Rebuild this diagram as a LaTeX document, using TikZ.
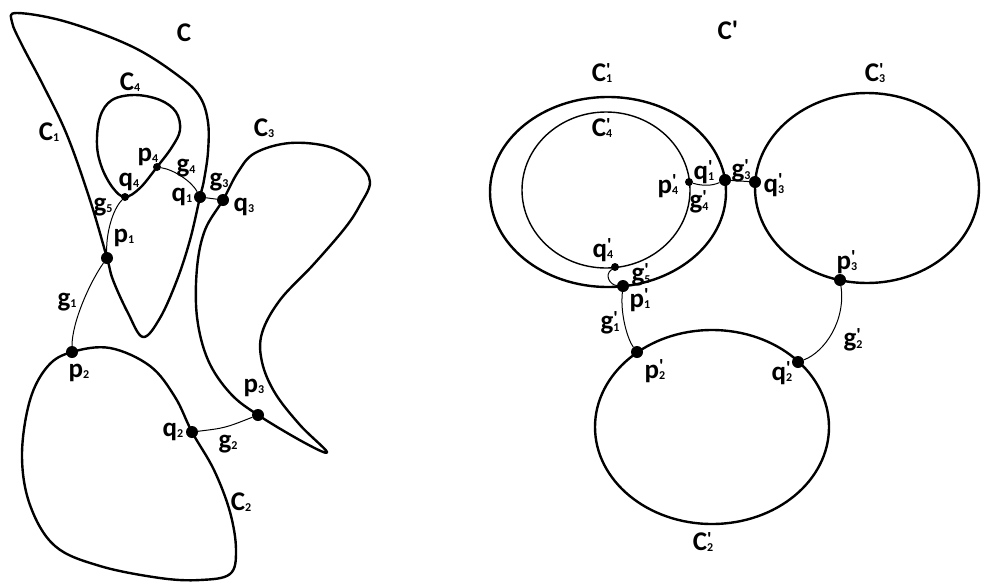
\documentclass[tikz,border=0pt]{standalone}
\usepackage{fontspec}
\setmainfont{Carlito}
\usetikzlibrary{calc}
\tikzset{
  curve/.style={line width=2.4pt, line join=round},
  incurve/.style={line width=1.4pt},
  gline/.style={line width=1pt},
  dot/.style={circle, fill, inner sep=0pt, minimum size=12pt},
  sdot/.style={dot, minimum size=8pt},
  lbl/.style={inner sep=0pt, font=\fontsize{27}{27}\selectfont\bfseries},
}
\newcommand{\lb}[2]{#1{\fontsize{12}{12}\selectfont\raisebox{-0.1em}{#2}}}
\newcommand{\lbp}[2]{#1\rlap{\raisebox{0.2em}{\fontsize{19}{19}\selectfont\textquotesingle}}{\fontsize{12}{12}\selectfont\raisebox{-0.1em}{#2}}}

\begin{document}
\begin{tikzpicture}[x=1pt, y=-1pt]
  \useasboundingbox (0,0) rectangle (984,584);
  % left: the curves C_1 ... C_4
  \draw[curve] plot[smooth cycle, tension=0.6] coordinates {(17,13) (67,22) (133,47) (180,77) (200,97) (208,122) (208,152) (204,180) (200,197) (190,240) (177,280) (160,318) (143,337) (128,313) (113,280) (107,258) (90,200) (67,135) (43,85) (22,45) (12,22)};
  \draw[curve] plot[smooth cycle, tension=0.6] coordinates {(125,197) (140,188) (157,167) (172,147) (180,130) (176,112) (160,100) (135,95) (112,100) (100,117) (97,145) (102,168) (113,188)};
  \draw[curve] plot[smooth cycle, tension=0.6] coordinates {(223,200) (238,172) (255,153) (290,143) (330,147) (358,163) (370,182) (360,205) (345,228) (313,265) (280,300) (262,333) (262,362) (275,393) (300,425) (327,452) (305,443) (258,415) (230,393) (208,360) (197,317) (197,268) (205,230)};
  \draw[curve] plot[smooth cycle, tension=0.6] coordinates {(72,352) (110,348) (150,366) (175,397) (192,432) (214,470) (230,512) (236,550) (230,574) (200,580) (160,578) (100,566) (55,546) (30,505) (22,455) (30,400) (48,366)};
  % right: the circles C'_1 ... C'_4
  \draw[curve] (608,192) ellipse [x radius=118, y radius=95];
  \draw[incurve] (606,190) ellipse [x radius=84, y radius=78];
  \draw[curve] (867,188) ellipse [x radius=112, y radius=95];
  \draw[curve] (712,427) ellipse [x radius=117, y radius=97];

  \foreach \n/\x/\y in {p1/107/258, q1/200/197, q3/223/200, p2/72/352, q2/192/432, p3/258/415,
      q1r/725/180, q3r/755/182, p1r/623/286, p2r/637/352, q2r/798/362, p3r/840/280}
    \node[dot] (\n) at (\x,\y) {};
  \foreach \n/\x/\y in {p4/157/167, q4/125/197, p4r/689/182, q4r/615/267}
    \node[sdot] (\n) at (\x,\y) {};

  \draw[gline] (p1) .. controls (90,282) and (72,322) .. (p2);
  \draw[gline] (q4) .. controls (112,210) and (106,235) .. (p1);
  \draw[gline] (p4) .. controls (175,170) and (192,182) .. (q1);
  \draw[gline] (q1) -- (q3);
  \draw[gline] (q2) .. controls (225,428) .. (p3);
  \draw[gline] (p4r) .. controls (702,186) and (712,186) .. (q1r);
  \draw[gline] (q1r) -- (q3r);
  \draw[gline] (q4r) .. controls (604,275) and (610,285) .. (p1r);
  \draw[gline] (p1r) .. controls (620,315) and (628,340) .. (p2r);
  \draw[gline] (p3r) .. controls (846,320) and (825,352) .. (q2r);

  % labels, left
  \node[lbl] (tC) at (184,33) {C};
  \node[lbl] (tC1) at (49,132) {\lb{C}{1}};
  \node[lbl] (tC4) at (130,82) {\lb{C}{4}};
  \node[lbl] (tC3) at (264,128) {\lb{C}{3}};
  \node[lbl] (tC2) at (241,502) {\lb{C}{2}};
  \node[lbl] (tp4) at (148,157) {\lb{p}{4}};
  \node[lbl] (tg4) at (186,168) {\lb{g}{4}};
  \node[lbl] (tq4) at (129,182) {\lb{q}{4}};
  \node[lbl] (tg5) at (103,207) {\lb{g}{5}};
  \node[lbl] (tq1) at (182,197) {\lb{q}{1}};
  \node[lbl] (tg3) at (219,182) {\lb{g}{3}};
  \node[lbl] (tq3) at (244,207) {\lb{q}{3}};
  \node[lbl] (tp1) at (124,238) {\lb{p}{1}};
  \node[lbl] (tg1) at (67,302) {\lb{g}{1}};
  \node[lbl] (tp2) at (79,373) {\lb{p}{2}};
  \node[lbl] (tp3) at (254,388) {\lb{p}{3}};
  \node[lbl] (tq2) at (173,432) {\lb{q}{2}};
  \node[lbl] (tg2) at (228,444) {\lb{g}{2}};
  % labels, right
  \node[lbl] (tCr) at (728,30) {C\textquotesingle};
  \node[lbl] (tC1r) at (602,73) {\lbp{C}{1}};
  \node[lbl] (tC4r) at (602,128) {\lbp{C}{4}};
  \node[lbl] (tC3r) at (875,73) {\lbp{C}{3}};
  \node[lbl] (tC2r) at (703,542) {\lbp{C}{2}};
  \node[lbl] (tp4r) at (668,186) {\lbp{p}{4}};
  \node[lbl] (tq1r) at (704,172) {\lbp{q}{1}};
  \node[lbl] (tg3r) at (741,171) {\lbp{g}{3}};
  \node[lbl] (tg4r) at (699,202) {\lbp{g}{4}};
  \node[lbl] (tq3r) at (774,185) {\lbp{q}{3}};
  \node[lbl] (tq4r) at (603,250) {\lbp{q}{4}};
  \node[lbl] (tg5r) at (641,275) {\lbp{g}{5}};
  \node[lbl] (tp1r) at (640,300) {\lbp{p}{1}};
  \node[lbl] (tg1r) at (610,323) {\lbp{g}{1}};
  \node[lbl] (tp2r) at (655,371) {\lbp{p}{2}};
  \node[lbl] (tq2r) at (782,373) {\lbp{q}{2}};
  \node[lbl] (tg2r) at (853,340) {\lbp{g}{2}};
  \node[lbl] (tp3r) at (847,262) {\lbp{p}{3}};
\end{tikzpicture}
\end{document}
